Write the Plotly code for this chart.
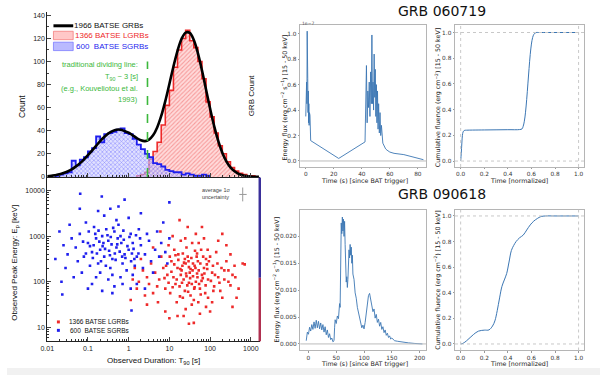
import numpy as np
import plotly.graph_objects as go

W, H = 600, 378
def PX(x): return x / W
def PY(y): return 1 - y / H

# ---------------- DATA ----------------
# T90 histogram (log10 T90 bin left edges, width 0.1 dex)
sgrb_bin_left = [-1.8, -1.7, -1.6, -1.5, -1.4, -1.3, -1.2, -1.1, -1.0, -0.9, -0.8, -0.7, -0.6, -0.5,
                 -0.4, -0.3, -0.2, -0.1, 0.0, 0.1, 0.2, 0.3, 0.4, 0.5, 0.6, 0.7, 0.8, 0.9, 1.0, 1.1,
                 1.2, 1.3, 1.4, 1.5, 1.6, 1.7, 1.8, 1.9]
sgrb_counts = [1, 2, 3, 4, 14, 10, 15, 17, 22, 25, 35, 30, 37, 38, 39, 41, 42, 38, 37, 33, 28, 24, 20,
               17, 12, 11, 9, 6, 5, 4, 4, 2, 3, 2, 1, 1, 2, 1]
lgrb_bin_left = [0.2, 0.3, 0.4, 0.5, 0.6, 0.7, 0.8, 0.9, 1.0, 1.1, 1.2, 1.3, 1.4, 1.5, 1.6, 1.7, 1.8,
                 1.9, 2.0, 2.1, 2.2, 2.3, 2.4, 2.5, 2.6, 2.7, 2.8, 2.9, 3.0]
lgrb_counts = [1, 2, 4, 15, 22, 30, 45, 62, 75, 95, 110, 120, 127, 118, 112, 100, 85, 65, 52, 38, 27,
               20, 13, 8, 5, 3, 2, 1, 1]
bin_width_dex = 0.1
# total fitted curve (log10 T90, count)
fit_log_t90 = [-2.0, -1.9, -1.8, -1.7, -1.6, -1.5, -1.4, -1.3, -1.2, -1.1, -1.0, -0.9, -0.8, -0.7,
               -0.6, -0.5, -0.4, -0.3, -0.2, -0.1, 0.0, 0.1, 0.2, 0.3, 0.4, 0.5, 0.6, 0.7, 0.8, 0.9,
               1.0, 1.1, 1.2, 1.3, 1.4, 1.5, 1.6, 1.7, 1.8, 1.9, 2.0, 2.1, 2.2, 2.3, 2.4, 2.5, 2.6,
               2.7, 2.8, 2.9, 3.0, 3.1, 3.2]
fit_count = [0.6, 0.9, 1.5, 2.2, 3.3, 4.7, 6.5, 8.9, 11.7, 15.0, 18.8, 22.8, 26.9, 31.0, 34.6, 37.6,
             39.7, 40.9, 40.9, 39.7, 38.3, 36.0, 33.6, 31.7, 31.0, 32.3, 36.0, 42.9, 52.9, 65.7, 80.5,
             95.7, 109.3, 119.7, 125.1, 124.8, 118.6, 107.3, 92.4, 75.8, 59.2, 44.0, 31.2, 21.0, 13.5,
             8.2, 4.8, 2.6, 1.4, 0.7, 0.3, 0.15, 0.05]
dividing_t90 = 2.9
dividing_top_count = 100

# Scatter: (log10 T90 [s], log10 Ep [keV])
lgrb_points = [
    (1.50, 2.20), (1.62, 2.35), (1.35, 2.05), (1.80, 2.15), (1.20, 2.30), (1.55, 1.95), (1.70, 2.45),
    (1.40, 2.40), (1.95, 2.05), (1.10, 2.10), (1.65, 2.00), (1.45, 2.55), (1.25, 1.90), (1.85, 2.30),
    (1.58, 2.12), (1.30, 2.25), (2.05, 2.20), (1.75, 1.85), (1.48, 2.32), (1.15, 1.95), (0.95, 2.15),
    (2.20, 2.10), (1.90, 2.50), (1.38, 1.80), (1.68, 2.62), (1.05, 2.45), (2.10, 1.90), (1.52, 1.70),
    (0.85, 2.30), (1.78, 2.70), (2.35, 2.25), (1.22, 2.60), (0.75, 2.05), (1.60, 1.60), (2.00, 2.55),
    (1.42, 2.75), (0.90, 1.85), (2.25, 1.80), (1.88, 1.75), (1.12, 2.70), (0.65, 2.20), (2.45, 2.00),
    (1.33, 1.65), (1.72, 2.85), (0.55, 2.40), (2.15, 2.65), (1.02, 1.75), (2.40, 2.45), (0.70, 1.90),
    (1.95, 1.65), (1.28, 2.90), (0.45, 2.10), (2.55, 2.15), (1.55, 1.50), (0.80, 2.55), (2.30, 1.65),
    (1.85, 2.95), (0.60, 1.75), (2.60, 2.35), (1.18, 1.55), (0.35, 2.25), (1.65, 3.05), (2.05, 1.55),
    (0.50, 1.95), (2.70, 1.85), (0.98, 2.80), (2.50, 2.60), (1.40, 1.40), (0.30, 2.50), (1.90, 1.45),
    (0.40, 1.70), (2.20, 2.90), (1.08, 3.00), (2.80, 2.40), (0.25, 2.00), (1.45, 3.20), (2.65, 1.65),
    (0.72, 1.55), (2.00, 1.35), (1.35, 1.25), (0.15, 2.30), (1.75, 1.30), (2.30, 3.05), (0.60, 2.75),
    (0.20, 1.85), (1.25, 3.35), (1.60, 1.10), (0.45, 1.50), (2.55, 1.45), (0.90, 1.35), (1.80, 3.20),
    (2.40, 2.80), (0.10, 2.05), (1.00, 1.20), (0.78, 3.10), (2.62, 2.10), (2.85, 2.38), (1.48, 1.08),
    (1.20, 1.25), (0.05, 1.60), (1.52, 2.28), (1.68, 2.18), (1.42, 2.12), (1.58, 2.40), (1.32, 2.35),
    (1.72, 2.25), (1.62, 1.88), (1.38, 2.50), (1.82, 2.08), (1.48, 1.98), (1.28, 2.15), (1.92, 2.38),
    (1.05, 2.22), (1.12, 2.38), (1.18, 2.05), (1.22, 2.48), (1.27, 2.28), (1.31, 1.98), (1.36, 2.42),
    (1.41, 2.18), (1.44, 1.92), (1.47, 2.45), (1.51, 2.08), (1.54, 2.52), (1.57, 2.25), (1.61, 1.85),
    (1.64, 2.30), (1.67, 2.55), (1.69, 2.10), (1.73, 1.95), (1.76, 2.40), (1.79, 2.02), (1.83, 2.55),
    (1.86, 2.18), (1.89, 1.92), (1.93, 2.28), (1.97, 2.45), (2.02, 2.02), (2.07, 2.35), (2.12, 2.15),
    (2.18, 2.40), (2.23, 1.98), (1.08, 1.88), (1.15, 2.58), (1.33, 2.62), (1.46, 1.78), (1.63, 2.68),
    (1.77, 1.72), (1.94, 2.70), (2.08, 1.80), (2.28, 2.30), (2.35, 2.05), (0.92, 2.35), (0.98, 1.98),
    (1.01, 2.55), (0.88, 2.08), (2.45, 2.25), (2.50, 1.92), (1.56, 2.85), (1.39, 2.95), (1.71, 1.55),
    (1.26, 1.68),
]
sgrb_points = [
    (-0.30, 2.75), (-0.50, 2.90), (-0.10, 2.60), (-0.70, 2.70), (0.10, 2.85), (-0.40, 2.50),
    (-0.20, 3.00), (-0.60, 2.55), (0.00, 2.70), (-0.80, 2.95), (-0.35, 3.10), (0.20, 2.55),
    (-0.90, 2.65), (-0.15, 2.40), (-0.55, 3.15), (0.30, 2.80), (-1.00, 2.85), (-0.45, 2.30),
    (0.05, 3.05), (-0.75, 2.40), (-0.25, 3.25), (0.40, 2.60), (-1.10, 2.55), (-0.65, 3.00),
    (0.15, 2.35), (-0.85, 3.20), (-0.05, 2.25), (0.50, 2.90), (-1.20, 3.05), (-0.40, 2.15),
    (-0.95, 2.35), (0.25, 3.15), (-0.20, 2.10), (-1.30, 2.75), (0.55, 2.45), (-0.70, 2.20),
    (-0.30, 3.35), (0.65, 2.70), (-1.40, 2.95), (0.10, 2.15), (-0.50, 2.05), (-1.05, 3.30),
    (0.35, 2.30), (-0.80, 2.10), (0.00, 3.40), (-1.25, 2.45), (0.75, 2.55), (-0.60, 3.45),
    (0.45, 3.05), (-1.50, 2.60), (-0.15, 1.95), (0.80, 2.85), (-1.15, 2.20), (-0.35, 1.90),
    (0.60, 2.20), (-1.45, 3.25), (-0.90, 1.95), (0.90, 2.65), (-0.45, 3.60), (0.20, 1.95),
    (-1.60, 2.80), (-0.75, 3.55), (0.70, 3.10), (-1.35, 2.10), (0.05, 1.85), (-0.25, 3.65),
    (-1.55, 2.30), (0.95, 2.40), (-0.65, 1.80), (-1.70, 3.10), (0.40, 1.85), (-1.20, 3.60),
    (0.85, 3.30), (-1.00, 1.85), (-0.10, 3.80), (-1.80, 2.50), (0.30, 3.50), (-0.40, 1.75),
    (-1.65, 2.00), (1.00, 2.95), (-1.19, 3.93), (-0.66, 3.87), (1.00, 3.74), (-1.63, 1.72),
    (0.07, 1.37), (-0.28, 2.82), (-0.48, 2.68), (-0.12, 2.92), (-0.62, 2.85), (0.08, 2.62),
    (-0.95, 2.78), (-0.88, 2.52), (-0.82, 3.05), (-0.78, 2.62), (-0.72, 2.88), (-0.68, 2.45),
    (-0.58, 2.72), (-0.52, 3.02), (-0.46, 2.58), (-0.42, 2.82), (-0.38, 3.18), (-0.32, 2.48),
    (-0.27, 2.95), (-0.22, 2.66), (-0.18, 2.85), (-0.13, 3.12), (-0.08, 2.52), (-0.03, 2.78),
    (0.02, 2.98), (0.06, 2.45), (0.12, 2.72), (0.18, 3.02), (0.24, 2.62), (-1.05, 2.62),
    (-1.12, 2.88), (-0.98, 3.10), (-0.56, 2.35), (-0.34, 2.62), (-0.86, 2.80), (0.28, 2.95),
    (-0.44, 2.98), (-0.64, 2.78), (-0.16, 2.55), (-0.74, 3.12), (0.14, 2.50),
]

# GRB 060719 light curve (flux in units of 1e-7)
t_060719 = [0.0, 0.2, 0.4, 0.6, 0.8, 1.0, 1.2, 1.4, 1.6, 1.8, 2.0, 2.2, 2.4, 2.6, 2.8, 3.0, 3.5, 23.5,
            42.3, 42.8, 43.3, 43.8, 44.3, 44.8, 45.3, 45.8, 46.3, 46.8, 47.2, 47.6, 48.0, 48.4, 48.8,
            49.2, 49.6, 50.0, 50.4, 50.8, 51.2, 51.6, 52.0, 52.5, 53.0, 53.5, 54.0, 55.0, 56.0, 57.0,
            58.0, 60.0, 63.0, 70.0, 84.0]
f_060719 = [0.35, 0.58, 0.40, 0.62, 0.45, 1.02, 0.50, 0.65, 0.38, 0.55, 0.30, 0.45, 0.28, 0.38, 0.32,
            0.36, 0.16, 0.02, 0.15, 0.45, 0.75, 0.30, 0.55, 0.42, 0.62, 0.35, 0.70, 0.45, 0.99, 0.45,
            0.62, 0.40, 0.84, 0.50, 0.72, 0.35, 0.60, 0.30, 0.55, 0.25, 0.45, 0.22, 0.38, 0.20, 0.28,
            0.14, 0.11, 0.095, 0.085, 0.07, 0.06, 0.05, 0.01]
tn_060719 = [0.0, 0.005, 0.01, 0.015, 0.02, 0.03, 0.05, 0.1, 0.2, 0.3, 0.4, 0.5, 0.52, 0.53, 0.54,
             0.55, 0.56, 0.57, 0.58, 0.59, 0.6, 0.61, 0.62, 0.63, 0.64, 0.66, 0.7, 0.8, 0.9, 1.0]
cum_060719 = [0.0, 0.06, 0.14, 0.2, 0.225, 0.238, 0.24, 0.241, 0.242, 0.243, 0.244, 0.245, 0.25, 0.27,
              0.31, 0.38, 0.48, 0.6, 0.72, 0.83, 0.91, 0.96, 0.985, 0.995, 1.0, 1.0, 1.0, 1.0, 1.0, 1.0]

# GRB 090618 light curve
t_090618 = [-4, -2, 0, 2, 4, 6, 8, 10, 12, 14, 16, 18, 20, 22, 24, 26, 28, 30, 32, 34, 36, 38, 40, 42,
            44, 46, 47, 48, 50, 52, 54, 56, 57, 58, 59, 60, 61, 62, 63, 64, 65, 66, 67, 68, 69, 70,
            71, 72, 73, 74, 75, 76, 77, 78, 79, 80, 82, 84, 86, 88, 90, 92, 94, 96, 98, 100, 102,
            104, 106, 108, 110, 112, 114, 116, 118, 120, 122, 124, 126, 128, 130, 132, 134, 136, 138,
            140, 142, 144, 146, 148, 150, 155, 160, 170, 180, 190, 205]
f_090618 = [0.0006, 0.0022, 0.0018, 0.0031, 0.0024, 0.0036, 0.0027, 0.0041, 0.0029, 0.0044, 0.0030,
            0.0042, 0.0028, 0.0039, 0.0026, 0.0036, 0.0022, 0.0032, 0.0017, 0.0026, 0.0012, 0.0019,
            0.0008, 0.0011, 0.0004, 0.0006, 0.0030, 0.0045, 0.0038, 0.0052, 0.0047, 0.0075, 0.0068,
            0.0160, 0.0225, 0.0205, 0.0236, 0.0210, 0.0232, 0.0200, 0.0228, 0.0185, 0.0140, 0.0115,
            0.0125, 0.0105, 0.0120, 0.0150, 0.0175, 0.0160, 0.0185, 0.0165, 0.0180, 0.0150, 0.0165,
            0.0130, 0.0120, 0.0095, 0.0085, 0.0068, 0.0058, 0.0045, 0.0040, 0.0030, 0.0035, 0.0028,
            0.0040, 0.0055, 0.0075, 0.0090, 0.0094, 0.0080, 0.0072, 0.0060, 0.0065, 0.0048, 0.0055,
            0.0040, 0.0046, 0.0033, 0.0040, 0.0027, 0.0032, 0.0021, 0.0026, 0.0016, 0.0020, 0.0012,
            0.0015, 0.0009, 0.0011, 0.0006, 0.0005, 0.0003, 0.0002, 0.0001, 0.0]
tn_090618 = [0.0, 0.02, 0.05, 0.08, 0.11, 0.15, 0.2, 0.24, 0.27, 0.29, 0.31, 0.33, 0.35, 0.37, 0.39,
             0.41, 0.43, 0.45, 0.47, 0.5, 0.53, 0.56, 0.59, 0.62, 0.65, 0.68, 0.72, 0.8, 0.9, 1.0]
cum_090618 = [0.0, 0.005, 0.025, 0.05, 0.075, 0.1, 0.108, 0.11, 0.14, 0.18, 0.26, 0.36, 0.45, 0.5,
              0.55, 0.64, 0.73, 0.77, 0.8, 0.83, 0.85, 0.89, 0.93, 0.96, 0.98, 0.995, 1.0, 1.0, 1.0, 1.0]

# ---------------- FIGURE ----------------
LF = "Liberation Sans"
MF = "DejaVu Sans"
RED = "#ee2a2a"
BLUE = "#1f1fee"
LC = "#3b76b3"

fig = go.Figure()

def step_xy(left_edges, counts, width):
    xs = [10 ** left_edges[0]]
    ys = [0]
    for e, c in zip(left_edges, counts):
        xs.append(10 ** e); ys.append(c)
    xs.append(10 ** (left_edges[-1] + width)); ys.append(counts[-1])
    xs.append(10 ** (left_edges[-1] + width)); ys.append(0)
    return xs, ys

rx, ry = step_xy(lgrb_bin_left, lgrb_counts, bin_width_dex)
bx, by = step_xy(sgrb_bin_left, sgrb_counts, bin_width_dex)
fig.add_trace(go.Scatter(x=rx, y=ry, mode="lines", line=dict(color=RED, width=1.6, shape="hv"),
                         fill="tozeroy",
                         fillpattern=dict(shape="/", fgcolor="#ee5a5a", bgcolor="rgba(255,215,215,0.9)",
                                          size=3, solidity=0.35),
                         xaxis="x", yaxis="y", showlegend=False, hoverinfo="skip"))
fig.add_trace(go.Scatter(x=bx, y=by, mode="lines", line=dict(color=BLUE, width=1.8, shape="hv"),
                         fill="tozeroy",
                         fillpattern=dict(shape="x", fgcolor="#3a3aff", bgcolor="rgba(205,205,255,0.6)",
                                          size=3, solidity=0.35),
                         xaxis="x", yaxis="y", showlegend=False, hoverinfo="skip"))
fig.add_trace(go.Scatter(x=[10 ** v for v in fit_log_t90], y=fit_count, mode="lines",
                         line=dict(color="black", width=2.6, shape="spline"),
                         xaxis="x", yaxis="y", showlegend=False, hoverinfo="skip"))
fig.add_trace(go.Scatter(x=[dividing_t90, dividing_t90], y=[0, dividing_top_count], mode="lines",
                         line=dict(color="#3cb83c", width=1.6, dash="dash"),
                         xaxis="x", yaxis="y", showlegend=False, hoverinfo="skip"))

# scatter
fig.add_trace(go.Scatter(x=[10 ** p[0] for p in lgrb_points], y=[10 ** p[1] for p in lgrb_points],
                         mode="markers", marker=dict(color=RED, size=2.6, symbol="square"),
                         xaxis="x2", yaxis="y2", showlegend=False))
fig.add_trace(go.Scatter(x=[10 ** p[0] for p in sgrb_points], y=[10 ** p[1] for p in sgrb_points],
                         mode="markers", marker=dict(color=BLUE, size=2.6, symbol="square"),
                         xaxis="x2", yaxis="y2", showlegend=False))

# light curves
fig.add_trace(go.Scatter(x=t_060719, y=f_060719, mode="lines", line=dict(color=LC, width=0.9),
                         xaxis="x3", yaxis="y3", showlegend=False))
fig.add_trace(go.Scatter(x=tn_060719, y=cum_060719, mode="lines", line=dict(color=LC, width=1, shape="spline"),
                         xaxis="x4", yaxis="y4", showlegend=False))
fig.add_trace(go.Scatter(x=t_090618, y=f_090618, mode="lines", line=dict(color=LC, width=0.9),
                         xaxis="x5", yaxis="y5", showlegend=False))
fig.add_trace(go.Scatter(x=tn_090618, y=cum_090618, mode="lines", line=dict(color=LC, width=1, shape="spline"),
                         xaxis="x6", yaxis="y6", showlegend=False))

# ---- axes ----
tf_left = dict(family=LF, size=7, color="#222")
xl = [PX(40.7), PX(256)]
log_minor = dict(ticks="inside", ticklen=2, dtick="D1", tickcolor="#333")
fig.update_layout(
    xaxis=dict(domain=xl, type="log", range=[-2, 3.226], anchor="y", showticklabels=False,
               showline=True, linecolor="#222", linewidth=1, ticks="inside", ticklen=4, dtick=1,
               minor=log_minor, showgrid=False, zeroline=False),
    yaxis=dict(domain=[PY(178.3), PY(12)], range=[0, 143], anchor="x", showline=True,
               linecolor="#222", linewidth=1, ticks="inside", ticklen=4, dtick=20,
               minor=dict(ticks="inside", ticklen=2, dtick=10), tickfont=tf_left,
               showgrid=False, zeroline=False),
    xaxis2=dict(domain=xl, type="log", range=[-2, 3.226], anchor="y2", showline=True,
                linecolor="#222", linewidth=1, ticks="inside", ticklen=4, dtick=1,
                exponentformat="none", minor=log_minor, tickfont=tf_left, showgrid=False,
                zeroline=False),
    yaxis2=dict(domain=[PY(344), PY(179)], type="log", range=[0.696, 4.283], anchor="x2",
                showline=True, linecolor="#222", linewidth=1, ticks="inside", ticklen=4, dtick=1,
                tickformat="d", minor=log_minor, tickfont=tf_left, showgrid=False,
                zeroline=False),
)

tf_r = dict(family=MF, size=5.8, color="#333")
def rax(domain, rng, anchor, dtick, fmt=None):
    d = dict(domain=domain, range=rng, anchor=anchor, showline=True, mirror=True,
             linecolor="#b5b5b5", linewidth=1, ticks="outside", ticklen=1.5, tickcolor="#999",
             dtick=dtick, tickfont=tf_r, showgrid=False, zeroline=False, ticklabelstandoff=0)
    if fmt:
        d["tickformat"] = fmt
    return d

xa = [PX(296.7), PX(424)]
xb = [PX(453.3), PX(584.3)]
ytop = [PY(168.3), PY(25)]
ybot = [PY(353.3), PY(211.5)]
fig.update_layout(
    xaxis3=rax(xa, [-3.95, 85.85], "y3", 20),
    yaxis3=rax(ytop, [-0.047, 1.07], "x3", 0.2, ".1f"),
    xaxis4=rax(xb, [-0.048, 1.05], "y4", 0.2, ".1f"),
    yaxis4=rax(ytop, [-0.046, 1.06], "x4", 0.2, ".1f"),
    xaxis5=rax(xa, [-14.8, 211.6], "y5", 50),
    yaxis5=rax(ybot, [-0.00122, 0.02494], "x5", 0.005, ".3f"),
    xaxis6=rax(xb, [-0.048, 1.05], "y6", 0.2, ".1f"),
    yaxis6=rax(ybot, [-0.051, 1.048], "x6", 0.2, ".1f"),
)

shapes = []
# reference lines in light-curve panels
for ax in ["3", "5"]:
    shapes.append(dict(type="line", xref=f"x{ax} domain", yref=f"y{ax}", x0=0, x1=1, y0=0, y1=0,
                       line=dict(color="#bbbbbb", width=1)))
for ax in ["4", "6"]:
    for yv in [0, 1]:
        shapes.append(dict(type="line", xref=f"x{ax} domain", yref=f"y{ax}", x0=0, x1=1, y0=yv, y1=yv,
                           line=dict(color="#c8c8c8", width=1, dash="dot")))
    for xv in [0, 1]:
        shapes.append(dict(type="line", xref=f"x{ax}", yref=f"y{ax} domain", x0=xv, x1=xv, y0=0, y1=1,
                           line=dict(color="#c8c8c8", width=1, dash="dot")))
# bottom light band
shapes.append(dict(type="rect", xref="paper", yref="paper", x0=0, x1=1, y0=0, y1=PY(371),
                   fillcolor="#f1f1f1", line=dict(width=0), layer="below"))
# histogram legend
shapes.append(dict(type="line", xref="paper", yref="paper", x0=PX(47), x1=PX(67), y0=PY(26), y1=PY(26),
                   line=dict(color="black", width=3)))
shapes.append(dict(type="rect", xref="paper", yref="paper", x0=PX(47), x1=PX(67), y0=PY(40), y1=PY(31.5),
                   fillcolor="#ffc8c8", line=dict(color="#f06060", width=0.6)))
shapes.append(dict(type="rect", xref="paper", yref="paper", x0=PX(47), x1=PX(67), y0=PY(51), y1=PY(42.5),
                   fillcolor="#babaff", line=dict(color="#6060ff", width=0.6)))
# scatter legend squares
shapes.append(dict(type="rect", xref="paper", yref="paper", x0=PX(50.5), x1=PX(53.5), y0=PY(326), y1=PY(323),
                   fillcolor=RED, line=dict(width=0)))
shapes.append(dict(type="rect", xref="paper", yref="paper", x0=PX(50.5), x1=PX(53.5), y0=PY(334.5), y1=PY(331.5),
                   fillcolor=BLUE, line=dict(width=0)))
# average uncertainty cross
shapes.append(dict(type="line", xref="paper", yref="paper", x0=PX(238.5), x1=PX(238.5), y0=PY(203), y1=PY(189),
                   line=dict(color="#999", width=1)))
shapes.append(dict(type="line", xref="paper", yref="paper", x0=PX(235), x1=PX(242.5), y0=PY(196), y1=PY(196),
                   line=dict(color="#999", width=1)))
# marginal strip on right of scatter
shapes.append(dict(type="rect", xref="paper", yref="paper", x0=PX(254.5), x1=PX(257), y0=PY(280), y1=PY(179),
                   fillcolor="#3a2f9a", line=dict(width=0)))
shapes.append(dict(type="rect", xref="paper", yref="paper", x0=PX(254.5), x1=PX(257), y0=PY(344), y1=PY(280),
                   fillcolor="#b03050", line=dict(width=0)))
fig.update_layout(shapes=shapes)

ann = []
def A(x, y, text, size, color="#111", family=LF, xanchor="left", angle=0, yanchor="middle"):
    ann.append(dict(x=PX(x), y=PY(y), xref="paper", yref="paper", text=text, showarrow=False,
                    font=dict(family=family, size=size, color=color), xanchor=xanchor,
                    yanchor=yanchor, textangle=angle, borderpad=0))

A(67, 26, "1966 BATSE GRBs", 8)
A(67.5, 36, "1366 BATSE LGRBs", 8, RED)
A(69, 47, "600  BATSE SGRBs", 8, BLUE)
GREEN = "#3cb83c"
A(134, 65, "traditional dividing line:", 7.5, GREEN, xanchor="right")
A(134, 77.5, "T<sub>90</sub> ~ 3 [s]", 7.5, GREEN, xanchor="right")
A(134, 89.5, "(e.g., Kouveliotou et al.", 7.5, GREEN, xanchor="right")
A(134, 100, "1993)", 7.5, GREEN, xanchor="right")
A(15, 107, "Count", 8.5, angle=-90, xanchor="center")
A(247, 96, "GRB Count", 8, angle=-90, xanchor="center")
A(8, 265, "Observed Peak Energy: E<sub>p</sub> [keV]", 8, angle=-90, xanchor="center")
A(148, 364, "Observed Duration: T<sub>90</sub> [s]", 8, xanchor="center")
A(61.5, 324.5, "1366 BATSE LGRBs", 6.5)
A(62.5, 333, "600  BATSE SGRBs", 6.5)
A(196, 191.5, "average 1\u03c3", 5.5, "#444")
A(196, 198.5, "uncertainty", 5.5, "#444")

A(440, 11, "GRB 060719", 14, "#111", MF, xanchor="center")
A(440, 196, "GRB 090618", 14, "#111", MF, xanchor="center")
A(297, 23.5, "1e\u22127", 4.5, "#555", MF)
A(280.5, 98, "Energy flux (erg cm<sup>\u22122</sup> s<sup>\u22121</sup>) [15 - 50 keV]", 6.3, "#222", MF,
  xanchor="center", angle=-90)
A(436, 98, "Cumulative fluence (erg cm<sup>\u22122</sup>) [15 - 50 keV]", 6.3, "#222", MF,
  xanchor="center", angle=-90)
A(362, 182, "Time (s) [since BAT trigger]", 6.3, "#222", MF, xanchor="center")
A(518, 182, "Time [normalized]", 6.3, "#222", MF, xanchor="center")
A(273, 282, "Energy flux (erg cm<sup>\u22122</sup> s<sup>\u22121</sup>) [15 - 50 keV]", 6.3, "#222", MF,
  xanchor="center", angle=-90)
A(436, 282, "Cumulative fluence (erg cm<sup>\u22122</sup>) [15 - 50 keV]", 6.3, "#222", MF,
  xanchor="center", angle=-90)
A(362, 366.5, "Time (s) [since BAT trigger]", 6.3, "#222", MF, xanchor="center")
A(518, 366.5, "Time [normalized]", 6.3, "#222", MF, xanchor="center")

fig.update_layout(annotations=ann, width=W, height=H, autosize=False,
                  margin=dict(l=0, r=0, t=0, b=0), paper_bgcolor="white", plot_bgcolor="rgba(0,0,0,0)",
                  showlegend=False, font=dict(family=LF))

fig.write_html("out.html", config={"displayModeBar": False},
               post_script="document.body.style.margin='0px';")
